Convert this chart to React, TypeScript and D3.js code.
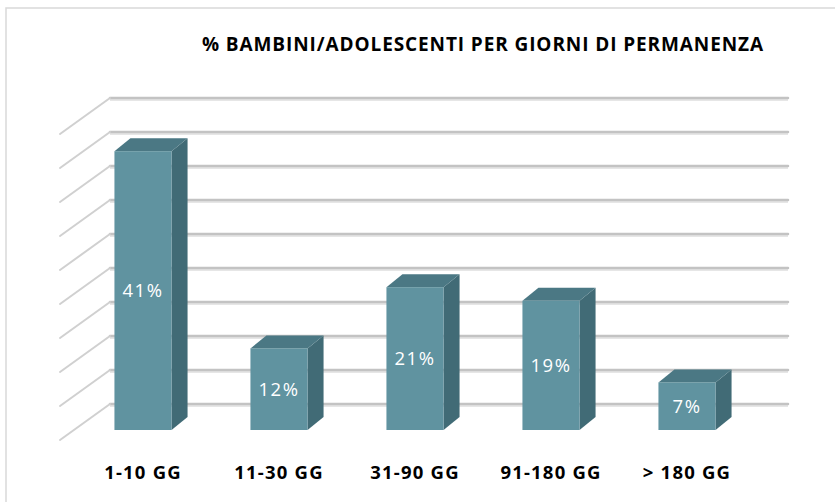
import React, { useEffect, useRef } from 'react'
import * as d3 from 'd3'

const categories = ["1-10 GG", "11-30 GG", "31-90 GG", "91-180 GG", "> 180 GG"]
const values = [41, 12, 21, 19, 7]
const gridTicks = [0, 5, 10, 15, 20, 25, 30, 35, 40, 45]
const title = "% BAMBINI/ADOLESCENTI PER GIORNI DI PERMANENZA"

const W = 835, H = 502
const depth = { dx: 16, dy: -13 }
const wallShift = { dx: -50, dy: 36 }
const font = "'Open Sans', Lato, sans-serif"

export default function App() {
  const ref = useRef<SVGSVGElement>(null)

  useEffect(() => {
    const svg = d3.select(ref.current)
    svg.selectAll("*").remove()

    // frame
    svg.append("rect")
      .attr("x", 6).attr("y", 8)
      .attr("width", 840).attr("height", 500)
      .attr("fill", "#fff")
      .attr("stroke", "#d9d9d9")
      .attr("stroke-width", 1.5)

    const x = d3.scaleBand<string>()
      .domain(categories)
      .range([75, 755])
      .paddingInner(0.58)
      .paddingOuter(0.29)

    // back wall scale and front-face scale share the same step
    const yBack = d3.scaleLinear().domain([0, 45]).range([404, 98])
    const yFront = d3.scaleLinear().domain([0, 45]).range([430, 124])

    const wallX0 = 110, wallX1 = 788

    const grid = svg.append("g")
    gridTicks.forEach(t => {
      const y = yBack(t)
      grid.append("line")
        .attr("x1", wallX0).attr("x2", wallX1)
        .attr("y1", y + 1).attr("y2", y + 1)
        .attr("stroke", "#e6e6e6").attr("stroke-width", 4)
      grid.append("line")
        .attr("x1", wallX0).attr("x2", wallX1)
        .attr("y1", y).attr("y2", y)
        .attr("stroke", "#c3c3c3").attr("stroke-width", 2.5)
        .attr("stroke-linecap", "round")
      grid.append("line")
        .attr("x1", wallX0).attr("x2", wallX0 + wallShift.dx)
        .attr("y1", y).attr("y2", y + wallShift.dy)
        .attr("stroke", "#d0d0d0").attr("stroke-width", 2)
        .attr("stroke-linecap", "round")
    })

    const bars = svg.append("g")
      .selectAll("g")
      .data(categories.map((c, i) => ({ c, v: values[i] })))
      .join("g")

    const bw = x.bandwidth()

    // side face
    bars.append("path")
      .attr("d", d => {
        const x1 = x(d.c)! + bw
        const yt = yFront(d.v), yb = yFront(0)
        return `M${x1},${yt}L${x1 + depth.dx},${yt + depth.dy}L${x1 + depth.dx},${yb + depth.dy}L${x1},${yb}Z`
      })
      .attr("fill", "#416b76")

    // top face
    bars.append("path")
      .attr("d", d => {
        const x0 = x(d.c)!, x1 = x0 + bw
        const yt = yFront(d.v)
        return `M${x0},${yt}L${x0 + depth.dx},${yt + depth.dy}L${x1 + depth.dx},${yt + depth.dy}L${x1},${yt}Z`
      })
      .attr("fill", "#4b7884")

    // front face
    bars.append("rect")
      .attr("x", d => x(d.c)!)
      .attr("y", d => yFront(d.v))
      .attr("width", bw)
      .attr("height", d => yFront(0) - yFront(d.v))
      .attr("fill", "#6093a0")

    bars.append("text")
      .attr("x", d => x(d.c)! + bw / 2)
      .attr("y", d => (yFront(d.v) + yFront(0)) / 2)
      .attr("dy", "0.35em")
      .attr("text-anchor", "middle")
      .attr("fill", "#fff")
      .style("font-family", font)
      .style("font-size", "18.5px")
      .style("letter-spacing", "1.5px")
      .text(d => d.v + "%")

    // category labels
    svg.append("g")
      .selectAll("text")
      .data(categories)
      .join("text")
      .attr("x", d => x(d)! + bw / 2)
      .attr("y", 479)
      .attr("text-anchor", "middle")
      .attr("fill", "#000")
      .style("font-family", font)
      .style("font-weight", "bold")
      .style("font-size", "18.5px")
      .style("letter-spacing", "1.2px")
      .text(d => d)

    svg.append("text")
      .attr("x", 483)
      .attr("y", 51)
      .attr("text-anchor", "middle")
      .attr("fill", "#000")
      .style("font-family", font)
      .style("font-weight", "bold")
      .style("font-size", "19px")
      .style("letter-spacing", "0.9px")
      .text(title)
  }, [])

  return (
    <svg ref={ref} width={W} height={H}
      style={{ position: "absolute", left: 0, top: 0, display: "block" }} />
  )
}
